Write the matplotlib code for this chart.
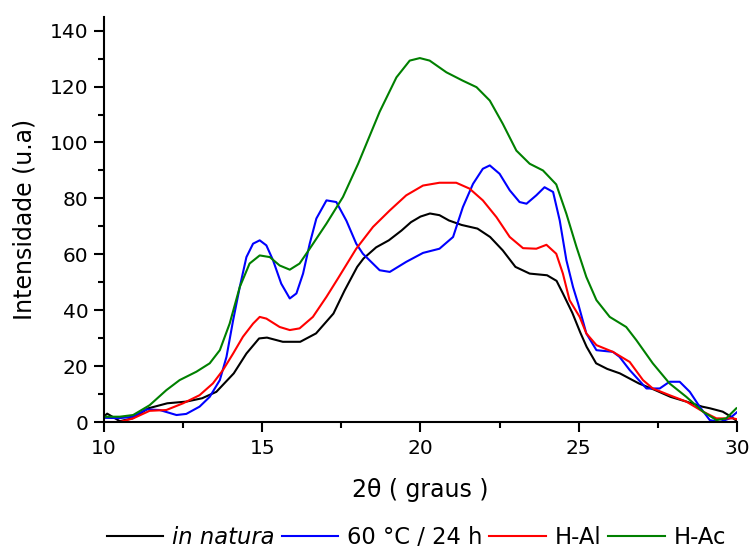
import matplotlib
matplotlib.use("Agg")
import matplotlib.pyplot as plt
from matplotlib.ticker import MultipleLocator

# ---- data ----
x_natura = [10.0, 10.1, 10.5, 10.9, 11.4, 12.0, 12.6, 13.1, 13.55, 14.1, 14.5, 14.9, 15.15, 15.65, 16.2, 16.7,
            17.25, 17.6, 18.0, 18.2, 18.6, 19.0, 19.4, 19.7, 20.0, 20.3, 20.6, 20.9, 21.3, 21.8, 22.2, 22.6,
            23.0, 23.45, 24.0, 24.3, 24.5, 24.8, 25.05, 25.25, 25.55, 25.9, 26.3, 26.9, 27.4, 27.9, 28.4,
            28.9, 29.15, 29.55, 29.8, 30.0]
y_natura = [2.0, 3.0, 0.3, 1.3, 4.9, 6.7, 7.3, 8.5, 10.8, 17.4, 24.5, 29.9, 30.2, 28.7, 28.7, 31.7,
            38.8, 47.0, 55.5, 58.5, 62.5, 65.0, 68.5, 71.5, 73.5, 74.6, 74.0, 72.1, 70.5, 69.2, 66.2, 61.4,
            55.5, 53.1, 52.5, 50.5, 46.0, 39.0, 32.0, 26.9, 21.0, 19.0, 17.4, 13.8, 11.5, 9.0, 7.3,
            5.5, 4.9, 3.7, 2.0, 0.3]

x_60c = [10.0, 10.5, 10.92, 11.34, 11.76, 12.29, 12.6, 13.02, 13.34, 13.66, 13.87, 14.08, 14.29, 14.5, 14.71,
         14.92, 15.13, 15.34, 15.6, 15.87, 16.08, 16.29, 16.5, 16.71, 17.03, 17.34, 17.66, 17.97, 18.18,
         18.71, 19.03, 19.55, 20.08, 20.6, 21.03, 21.34, 21.66, 21.97, 22.19, 22.5, 22.82, 23.13, 23.35,
         23.66, 23.92, 24.19, 24.4, 24.61, 24.82, 24.98, 25.24, 25.56, 26.08, 26.29, 26.61, 27.14, 27.56,
         27.87, 28.19, 28.51, 28.82, 29.14, 29.46, 29.77, 30.0]
y_60c = [1.5, 1.4, 1.9, 4.5, 4.3, 2.5, 2.9, 5.5, 9.0, 15.0, 23.3, 36.4, 48.3, 59.0, 63.8,
         65.0, 63.2, 57.9, 49.5, 44.2, 46.0, 53.1, 63.8, 72.8, 79.3, 78.7, 72.0, 63.8, 60.2,
         54.3, 53.7, 57.3, 60.5, 62.0, 66.2, 76.9, 85.2, 90.6, 91.8, 88.8, 82.9, 78.7, 78.1,
         81.1, 84.0, 82.3, 72.1, 57.9, 48.3, 42.4, 31.7, 25.7, 25.1, 23.3, 18.6, 12.0, 12.0,
         14.4, 14.4, 10.8, 5.5, 0.7, 0.0, 1.3, 3.5]

x_hal = [10.0, 10.5, 10.92, 11.44, 11.97, 12.5, 13.02, 13.44, 13.76, 14.08, 14.39, 14.71, 14.92, 15.13, 15.55,
         15.87, 16.18, 16.6, 17.03, 17.4, 17.97, 18.5, 19.03, 19.55, 20.08, 20.6, 21.13, 21.55, 21.97,
         22.4, 22.82, 23.24, 23.66, 23.98, 24.29, 24.5, 24.71, 25.03, 25.24, 25.56, 26.08, 26.61, 27.03,
         27.34, 27.87, 28.4, 28.93, 29.35, 29.87, 30.0]
y_hal = [0.0, 0.0, 1.3, 4.0, 4.3, 6.7, 9.6, 13.8, 18.6, 24.5, 30.5, 35.2, 37.6, 37.0, 34.0,
         32.9, 33.5, 37.6, 44.8, 51.5, 62.0, 69.8, 75.7, 81.1, 84.6, 85.6, 85.6, 83.5, 79.3,
         73.3, 66.2, 62.2, 62.0, 63.4, 60.2, 53.1, 43.6, 37.6, 31.7, 27.5, 25.1, 21.5, 15.0,
         12.0, 9.6, 7.3, 3.7, 1.3, 1.3, 1.0]

x_hac = [10.0, 10.5, 10.92, 11.44, 11.97, 12.39, 12.92, 13.34, 13.66, 13.97, 14.29, 14.6, 14.92, 15.24, 15.55,
         15.87, 16.18, 16.5, 17.03, 17.55, 18.03, 18.71, 19.24, 19.66, 19.98, 20.29, 20.82, 21.34, 21.77,
         22.19, 22.6, 23.03, 23.45, 23.87, 24.29, 24.61, 24.93, 25.24, 25.56, 25.98, 26.5, 26.82, 27.34,
         27.87, 28.4, 28.93, 29.35, 29.66, 29.98]
y_hac = [1.9, 1.9, 2.5, 6.0, 11.4, 15.0, 18.0, 21.0, 25.7, 35.2, 48.3, 56.7, 59.6, 59.0, 56.0,
         54.5, 56.7, 62.0, 71.0, 80.5, 92.4, 111.0, 123.3, 129.3, 130.2, 129.3, 125.1, 122.1, 119.8,
         115.0, 106.7, 97.1, 92.4, 90.0, 85.0, 74.5, 62.6, 51.9, 43.6, 37.6, 34.0, 29.3, 21.0,
         13.8, 9.0, 3.7, 0.7, 1.3, 4.9]

labels = ["in natura", "60 °C / 24 h", "H-Al", "H-Ac"]
colors = ["black", "#0000FF", "#FF0000", "#008000"]
xs_all = [x_natura, x_60c, x_hal, x_hac]
ys_all = [y_natura, y_60c, y_hal, y_hac]

plt.rcParams['font.family'] = ['DejaVu Sans']

fig = plt.figure(figsize=(7.52, 5.48), dpi=100)
ax = fig.add_axes([0.1383, 0.2299, 0.8417, 0.7396])

handles = []
for xs, ys, lab, col in zip(xs_all, ys_all, labels, colors):
    h, = ax.plot(xs, ys, color=col, lw=1.5, label=lab)
    handles.append(h)

ax.set_xlim(10, 30)
ax.set_ylim(0, 145)
ax.xaxis.set_major_locator(MultipleLocator(5))
ax.xaxis.set_minor_locator(MultipleLocator(2.5))
ax.set_yticks(range(0, 141, 20))
ax.yaxis.set_minor_locator(MultipleLocator(10))

for s in ("top", "right"):
    ax.spines[s].set_visible(False)
for s in ("left", "bottom"):
    ax.spines[s].set_linewidth(1.5)

ax.tick_params(which="major", direction="out", length=7, width=1.5, labelsize=14.5, colors="black")
ax.tick_params(which="minor", direction="out", length=4.5, width=1.5)
ax.tick_params(axis="x", pad=5)
ax.tick_params(axis="y", pad=4)

ax.set_xlabel("2θ ( graus )", fontsize=17)
ax.set_ylabel("Intensidade (u.a)", fontsize=17)
ax.xaxis.set_label_coords(0.5, -0.168)
ax.xaxis.label.set_va("center")
ax.yaxis.set_label_coords(-0.125, 0.5)
ax.yaxis.label.set_va("center")

leg = fig.legend(handles=handles, loc="center", bbox_to_anchor=(0.554, 0.02), ncol=4,
                 frameon=False, fontsize=16.3, handlelength=2.5, handletextpad=0.4,
                 columnspacing=0.3, borderpad=0.0)
leg.get_texts()[0].set_fontstyle("italic")

fig.savefig("out.png", dpi=100)
